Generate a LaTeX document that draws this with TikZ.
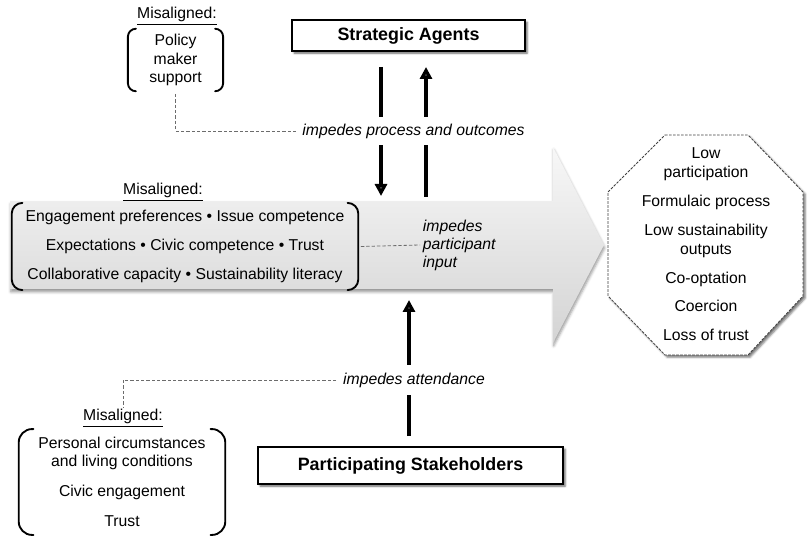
\documentclass[tikz,border=0pt]{standalone}
\usepackage{fontspec}
\setmainfont{Liberation Sans}
\usetikzlibrary{arrows.meta,shadows.blur,calc}
\begin{document}
\begin{tikzpicture}[x=0.75pt,y=-0.75pt,
  txt/.style={font=\fontsize{11.8pt}{14pt}\selectfont, align=center, inner sep=0pt},
  itl/.style={font=\fontsize{11.8pt}{13.5pt}\selectfont\itshape, inner sep=0pt},
  brk/.style={line width=1.4pt, line cap=round},
  boxs/.style={draw, line width=1.5pt, fill=white, font=\fontsize{13.4pt}{16pt}\selectfont\bfseries, inner sep=0pt,
    blur shadow={shadow xshift=1.6pt,shadow yshift=-1.6pt,shadow blur radius=1.5pt,shadow opacity=60}},
  thk/.style={line width=2.3pt, -{Triangle[width=9pt,length=9pt]}},
  dsh/.style={draw=gray!85!black, line width=0.6pt, dash pattern=on 2.5pt off 1.5pt},
  octs/.style={draw=gray!50!black, line width=0.6pt, dash pattern=on 2pt off 1pt, fill=white,
    blur shadow={shadow xshift=1.6pt,shadow yshift=-1.6pt,shadow blur radius=1.5pt,shadow opacity=55}}
]
\useasboundingbox (0,0) rectangle (812,555);

% big flow arrow
\path[blur shadow={shadow xshift=0.5pt, shadow yshift=-2.2pt, shadow blur radius=2pt, shadow opacity=40},
      top color=gray!6, bottom color=gray!34]
  (10,201) -- (553,201) -- (553,147) -- (604,245) -- (553,343) -- (553,289) -- (10,289) -- cycle;
\coordinate (fT1) at (381,196);
\coordinate (fT2) at (426,197);
\coordinate (fB) at (409,300);

% outcomes octagon
\path[octs] (665,135) -- (748,135) -- (803,192) -- (803,296) -- (748,355) -- (665,355) -- (608,296) -- (608,192) -- cycle;
\node[txt, font=\fontsize{11.8pt}{14.5pt}\selectfont] (out) at (706,244)
  {Low\\participation\\[7pt]Formulaic process\\[7pt]Low sustainability\\outputs\\[7pt]Co-optation\\[7pt]Coercion\\[7pt]Loss of trust};

% boxes
\node[boxs, minimum width=174.75pt, minimum height=23.25pt] (sa) at (408.5,35.5) {Strategic Agents};
\node[boxs, minimum width=228.75pt, minimum height=27.75pt] (ps) at (410.5,465.5) {Participating Stakeholders};

% top misaligned
\node[txt] (m1) at (177,16) {\underline{Misaligned:}};
\node[txt, minimum width=71pt, minimum height=46.5pt] (pm) at (175.5,60) {Policy\\maker\\support};
\draw[brk, rounded corners=6pt] ([xshift=6pt]pm.north west) -- (pm.north west) -- (pm.south west) -- ([xshift=6pt]pm.south west);
\draw[brk, rounded corners=6pt] ([xshift=-6pt]pm.north east) -- (pm.north east) -- (pm.south east) -- ([xshift=-6pt]pm.south east);

% middle misaligned
\node[txt] (m2) at (163,192) {\underline{Misaligned:}};
\node[txt, minimum width=259.5pt, minimum height=65pt] (mb) at (185,246.5)
  {Engagement preferences • Issue competence\\[8pt]Expectations • Civic competence • Trust\\[8pt]Collaborative capacity • Sustainability literacy};
\draw[brk, rounded corners=8pt] ([xshift=8pt]mb.north west) -- (mb.north west) -- (mb.south west) -- ([xshift=8pt]mb.south west);
\draw[brk, rounded corners=8pt] ([xshift=-8pt]mb.north east) -- (mb.north east) -- (mb.south east) -- ([xshift=-8pt]mb.south east);

% bottom misaligned
\node[txt] (m3) at (123,418) {\underline{Misaligned:}};
\node[txt, font=\fontsize{11.8pt}{13.5pt}\selectfont, minimum width=154.5pt, minimum height=79pt] (pb) at (122,482)
  {Personal circumstances\\and living conditions\\[9pt]Civic engagement\\[9pt]Trust};
\draw[brk, rounded corners=10pt] ([xshift=11pt]pb.north west) -- (pb.north west) -- (pb.south west) -- ([xshift=11pt]pb.south west);
\draw[brk, rounded corners=10pt] ([xshift=-11pt]pb.north east) -- (pb.north east) -- (pb.south east) -- ([xshift=-11pt]pb.south east);

% arrows
\draw[thk] ($(sa.south)+(-27.5,15)$) -- (fT1);
\draw[thk] (fT2) -- ($(sa.south)+(17.5,15)$);
\draw[thk] ($(ps.north)+(-1.5,-10)$) -- (fB);

% labels
\node[itl, fill=white, inner xsep=5pt, inner ysep=5pt] (l1) at (413.5,131) {impedes process and outcomes};
\node[itl, align=left, anchor=west, inner sep=2pt] (l2) at (420,245) {impedes\\participant\\input};
\node[itl, fill=white, inner xsep=5pt, inner ysep=6pt] (l3) at (414,380) {impedes attendance};

% dashed connectors
\draw[dsh] ([yshift=-2pt]pm.south) |- (l1.west);
\draw[dsh] ([xshift=2pt]mb.east) -- (l2.west);
\draw[dsh] (l3.west) -| ([yshift=1pt]m3.north);
\end{tikzpicture}
\end{document}
